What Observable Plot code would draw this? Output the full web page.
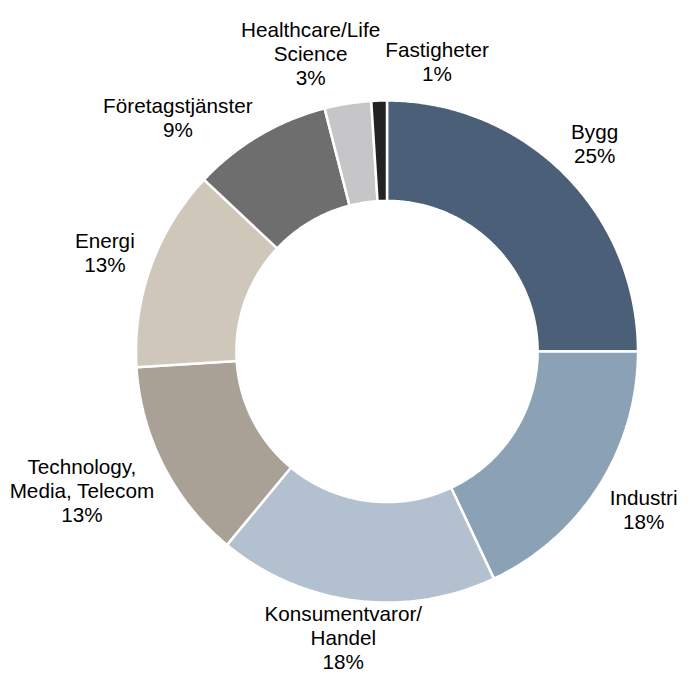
<!DOCTYPE html>
<html>
<head>
<meta charset="utf-8">
<script src="https://cdn.jsdelivr.net/npm/d3@7"></script>
<script src="https://cdn.jsdelivr.net/npm/@observablehq/plot@0.6"></script>
<style>
  html, body { margin: 0; padding: 0; background: #ffffff; }
  #chart { width: 690px; height: 675px; }
</style>
</head>
<body>
<div id="chart"></div>
<script>
// ---- Data ----
const categories = ["Bygg", "Industri", "Konsumentvaror/Handel", "Technology, Media, Telecom", "Energi", "Företagstjänster", "Healthcare/Life Science", "Fastigheter"];
const labelNames = ["Bygg", "Industri", "Konsumentvaror/\nHandel", "Technology,\nMedia, Telecom", "Energi", "Företagstjänster", "Healthcare/Life\nScience", "Fastigheter"];
const shares = [25, 18, 18, 13, 13, 9, 3, 1];
const colors = ["#4b5f78", "#8aa1b6", "#b2c0cf", "#a9a195", "#cfc7ba", "#6e6e6f", "#c6c6c8", "#232323"];

// ---- Layout ----
const W = 690, H = 675;
const cx = 386.5, cy = 351, R = 251;
const innerFrac = 0.6;
const fontSize = 20.7, lineHeight = 1.16;
const font = "Liberation Sans, Arial, sans-serif";

const arcs = d3.pie().sort(null).value(d => d)(shares);

// polygon outline of each ring segment in unit (data) coordinates
const step = Math.PI / 360;
const pts = [];
arcs.forEach((a, i) => {
  const cat = categories[i];
  const n = Math.max(2, Math.ceil((a.endAngle - a.startAngle) / step));
  const ring = [];
  for (let k = 0; k <= n; k++) {
    const t = a.startAngle + (a.endAngle - a.startAngle) * k / n;
    ring.push({cat, x: Math.sin(t), y: Math.cos(t)});
  }
  for (let k = n; k >= 0; k--) {
    const t = a.startAngle + (a.endAngle - a.startAngle) * k / n;
    ring.push({cat, x: innerFrac * Math.sin(t), y: innerFrac * Math.cos(t)});
  }
  ring.push({...ring[0]});
  pts.push(...ring);
});

// label placement: outside end (box touching ring R + gap), de-overlapped by spreading angles
const ctx = document.createElement("canvas").getContext("2d");
ctx.font = `${fontSize}px "Liberation Sans"`;
const gap = 19;
const pad = 4;
const labels = arcs.map((a, i) => {
  const text = `${labelNames[i]}\n${shares[i]}%`;
  const lines = text.split("\n");
  const w = Math.max(...lines.map(l => ctx.measureText(l).width));
  const h = lines.length * fontSize * lineHeight;
  return {text, w, h, t: (a.startAngle + a.endAngle) / 2};
});
function place(b) {
  const s = Math.sin(b.t), c = Math.cos(b.t);
  b.px = cx + s * (R + gap) + s * b.w / 2;
  b.py = cy - c * (R + gap) - c * b.h / 2;
  b.px = Math.max(b.w / 2 + 2, Math.min(W - b.w / 2 - 2, b.px));
  b.py = Math.max(b.h / 2 + 2, Math.min(H - b.h / 2 - 2, b.py));
}
labels.forEach(place);
const dt = Math.PI / 720;
for (let iter = 0; iter < 400; iter++) {
  let moved = false;
  for (let i = 0; i < labels.length; i++) {
    for (let j = i + 1; j < labels.length; j++) {
      const A = labels[i], B = labels[j];
      const ox = Math.min(A.px + A.w / 2, B.px + B.w / 2) - Math.max(A.px - A.w / 2, B.px - B.w / 2) + pad;
      const oy = Math.min(A.py + A.h / 2, B.py + B.h / 2) - Math.max(A.py - A.h / 2, B.py - B.h / 2) + pad;
      if (ox > 0 && oy > 0) {
        moved = true;
        // the label whose angle comes first moves back, the other forward
        const aFirst = (B.t - A.t) < Math.PI;
        if (aFirst) { A.t -= dt; B.t += dt; } else { A.t += dt; B.t -= dt; }
        place(A); place(B);
      }
    }
  }
  if (!moved) break;
}
const labelData = labels.map(b => ({text: b.text, x: (b.px - cx) / R, y: (cy - b.py) / R}));

const chart = Plot.plot({
  width: W,
  height: H,
  margin: 0,
  style: {fontFamily: font, background: "#ffffff"},
  x: {domain: [-1, 1], range: [cx - R, cx + R], axis: null},
  y: {domain: [-1, 1], range: [cy + R, cy - R], axis: null},
  color: {domain: categories, range: colors},
  marks: [
    Plot.line(pts, {x: "x", y: "y", z: "cat", fill: "cat", stroke: "#ffffff", strokeWidth: 2.5, strokeLinejoin: "miter", curve: "linear"}),
    Plot.text(labelData, {x: "x", y: "y", text: "text", fontSize: fontSize, lineHeight: lineHeight, fill: "#000000", textAnchor: "middle", lineAnchor: "middle"})
  ]
});
document.getElementById("chart").appendChild(chart);
</script>
</body>
</html>
